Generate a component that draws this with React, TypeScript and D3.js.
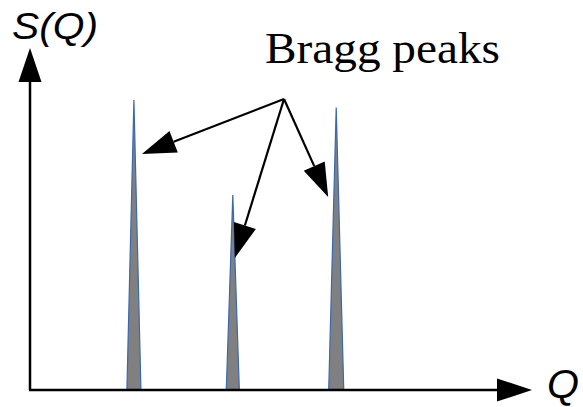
import React from "react";
import * as d3 from "d3";

const peakQ = [2.07, 4.04, 6.1];
const peakS = [8.48, 5.7, 8.26];
const peakHalfWidth = [0.14, 0.13, 0.15];
const arrowFrom = { q: 5.06, s: 8.51 };
const arrowTipQ = [2.23, 4.08, 5.94];
const arrowTipS = [6.9, 3.86, 5.64];

const W = 583;
const H = 407;

function head(tx: number, ty: number, fx: number, fy: number, len: number, hw: number) {
  const dx = tx - fx, dy = ty - fy;
  const d = Math.hypot(dx, dy);
  const ux = dx / d, uy = dy / d;
  const bx = tx - ux * len, by = ty - uy * len;
  const px = -uy * hw, py = ux * hw;
  return { pts: `${tx},${ty} ${bx + px},${by + py} ${bx - px},${by - py}`, bx, by };
}

export default function App() {
  const x = d3.scaleLinear().domain([0, 10]).range([30, 532]);
  const y = d3.scaleLinear().domain([0, 10]).range([390, 48]);
  const area = d3.area<[number, number]>().x(d => x(d[0])).y0(y(0)).y1(d => y(d[1]));
  const line = d3.line<[number, number]>().x(d => x(d[0])).y(d => y(d[1]));

  const yHead = head(x(0), y(10), x(0), y(0), 34, 11.5);
  const xHead = head(x(10), y(0), x(0), y(0), 35, 11.5);
  const ox = x(arrowFrom.q), oy = y(arrowFrom.s);

  return (
    <div style={{ position: "fixed", left: 0, top: 0 }}>
      <svg width={W} height={H} style={{ display: "block", background: "#fff" }}>
        {peakQ.map((q, i) => {
          const pts: [number, number][] = [
            [q - peakHalfWidth[i], 0],
            [q, peakS[i]],
            [q + peakHalfWidth[i], 0],
          ];
          return (
            <g key={i}>
              <path d={area(pts) || ""} fill="#808080" />
              <path d={line(pts) || ""} fill="none" stroke="#3a68b0" strokeWidth={1.2} />
            </g>
          );
        })}
        <line x1={x(0)} y1={y(0)} x2={x(0)} y2={yHead.by} stroke="#000" strokeWidth={2.5} />
        <polygon points={yHead.pts} fill="#000" />
        <line x1={x(0) - 1} y1={y(0)} x2={xHead.bx} y2={y(0)} stroke="#000" strokeWidth={2.5} />
        <polygon points={xHead.pts} fill="#000" />
        {arrowTipQ.map((q, i) => {
          const tx = x(q), ty = y(arrowTipS[i]);
          const h = head(tx, ty, ox, oy, 34, 11.5);
          return (
            <g key={i}>
              <line x1={ox} y1={oy} x2={h.bx} y2={h.by} stroke="#000" strokeWidth={2.2} />
              <polygon points={h.pts} fill="#000" />
            </g>
          );
        })}
        <text x={12} y={39} fontFamily="Liberation Sans, Arial, sans-serif" fontStyle="italic" fontSize={36} fill="#000" textLength={86} lengthAdjust="spacingAndGlyphs">S(Q)</text>
        <text x={547} y={398} fontFamily="Liberation Sans, Arial, sans-serif" fontStyle="italic" fontSize={40} fill="#000" textLength={32} lengthAdjust="spacingAndGlyphs">Q</text>
        <text x={265} y={63} fontFamily="Liberation Serif, Times New Roman, serif" fontSize={45} fill="#000" textLength={235} lengthAdjust="spacingAndGlyphs">Bragg peaks</text>
      </svg>
    </div>
  );
}
